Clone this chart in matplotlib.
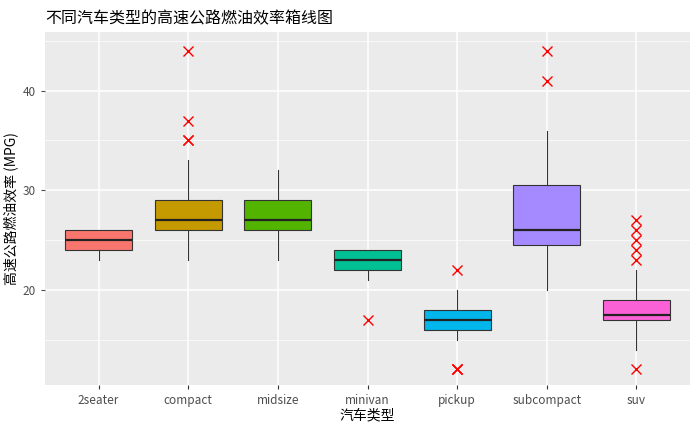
import matplotlib.pyplot as plt

plt.rcParams['font.family'] = ['Noto Sans CJK SC', 'DejaVu Sans']

classes = ['2seater', 'compact', 'midsize', 'minivan', 'pickup', 'subcompact', 'suv']
q1 = [24, 26, 26, 22, 16, 24.5, 17]
med = [25, 27, 27, 23, 17, 26, 17.5]
q3 = [26, 29, 29, 24, 18, 30.5, 19]
wlo = [23, 23, 23, 21, 15, 20, 14]
whi = [26, 33, 32, 24, 20, 36, 22]
fliers = [[], [35, 37, 35, 44], [], [17], [12, 12, 12, 22], [44, 41], [12, 23, 24, 25, 26, 27]]
colors = ['#F8766D', '#C49A00', '#53B400', '#00C094', '#00B6EB', '#A58AFF', '#FB61D7']

stats = [dict(q1=a, med=m, q3=b, whislo=lo, whishi=hi, fliers=f, label=c)
         for a, m, b, lo, hi, f, c in zip(q1, med, q3, wlo, whi, fliers, classes)]

fig = plt.figure(figsize=(7, 4.32), dpi=100)
ax = fig.add_axes([0.064, 0.108, 0.922, 0.818])
ax.set_facecolor('#EBEBEB')
for y in [15, 25, 35, 45]:
    ax.axhline(y, color='white', lw=0.5, zorder=0)
for y in [20, 30, 40]:
    ax.axhline(y, color='white', lw=1.1, zorder=0)
for x in range(1, 8):
    ax.axvline(x, color='white', lw=1.1, zorder=0)

bp = ax.bxp(stats, widths=0.75, patch_artist=True, showcaps=False,
            boxprops=dict(color='#333333', lw=0.8),
            whiskerprops=dict(color='#333333', lw=0.8),
            medianprops=dict(color='#222222', lw=1.6),
            flierprops=dict(marker='x', markeredgecolor='red', markersize=7, lw=0))
for p, c in zip(bp['boxes'], colors):
    p.set_facecolor(c)
    p.set_zorder(2)

ax.set_xlim(0.4, 7.6)
ax.set_ylim(10.4, 45.9)
ax.set_yticks([20, 30, 40])
for s in ax.spines.values():
    s.set_visible(False)
ax.tick_params(colors='#4D4D4D', labelsize=8.5, length=3)
ax.tick_params(axis='x', colors='#333333')
for t in ax.get_xticklabels() + ax.get_yticklabels():
    t.set_color('#4D4D4D')
ax.set_xlabel('汽车类型', fontsize=10, labelpad=1)
ax.set_ylabel('高速公路燃油效率 (MPG)', fontsize=10, labelpad=3)
ax.set_title('不同汽车类型的高速公路燃油效率箱线图', fontsize=11.5, loc='left', pad=6)
fig.savefig('out.png')
